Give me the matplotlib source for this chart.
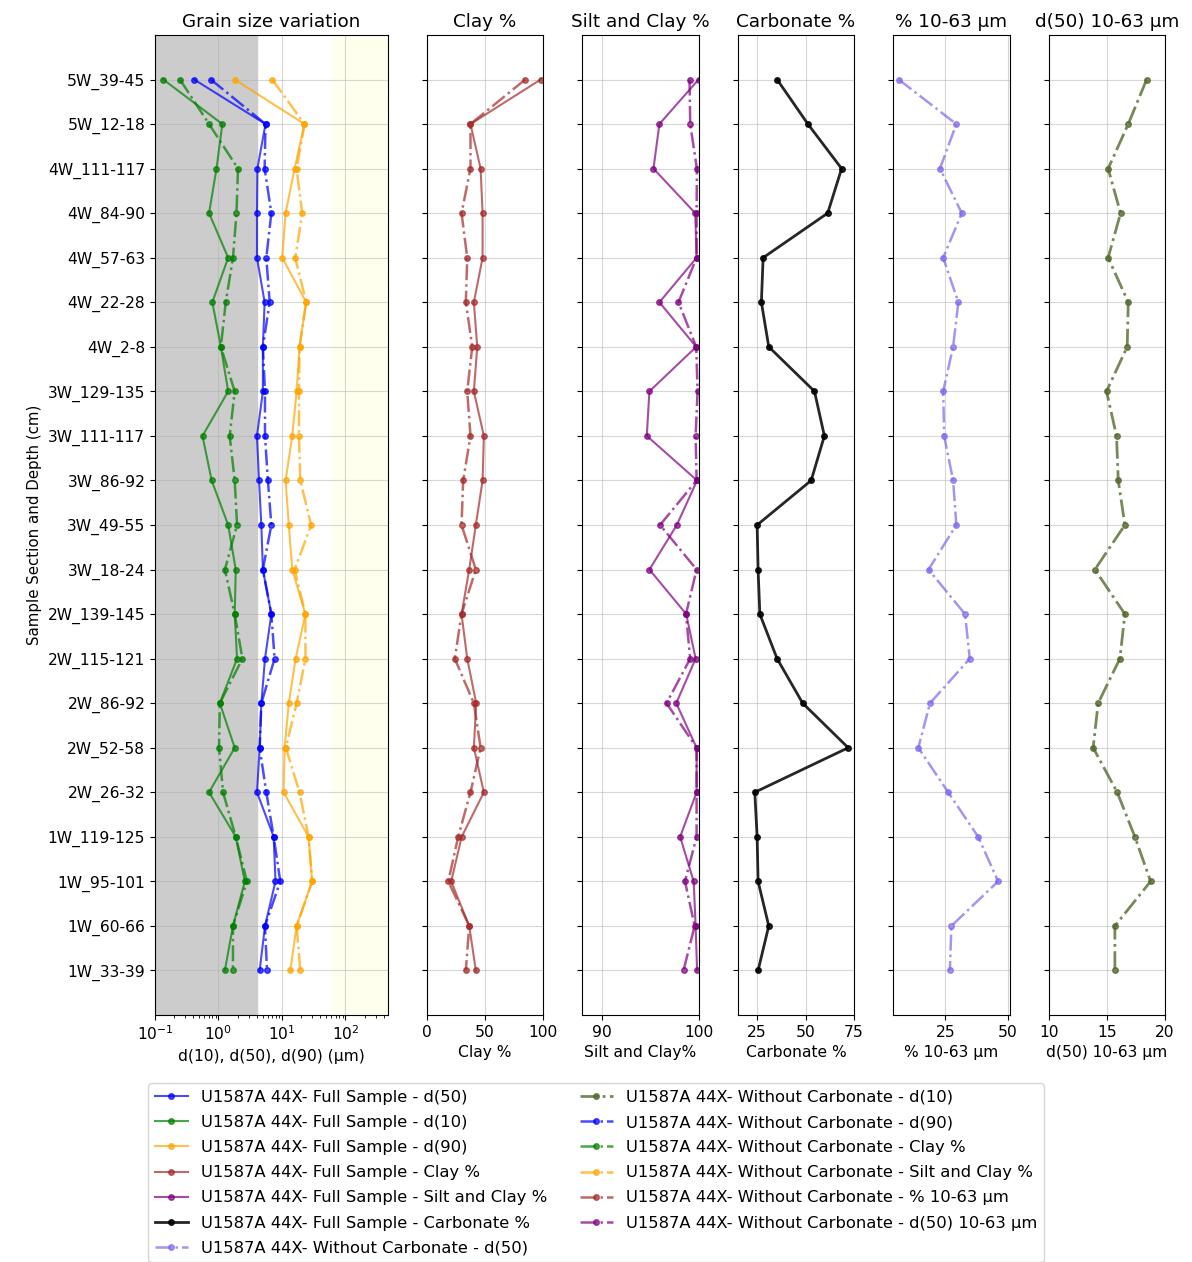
import numpy as np
import matplotlib
matplotlib.use('Agg')
import matplotlib.pyplot as plt

plt.rcParams['font.size'] = 11.2

samples = ['5W_39-45', '5W_12-18', '4W_111-117', '4W_84-90', '4W_57-63', '4W_22-28',
           '4W_2-8', '3W_129-135', '3W_111-117', '3W_86-92', '3W_49-55', '3W_18-24',
           '2W_139-145', '2W_115-121', '2W_86-92', '2W_52-58', '2W_26-32',
           '1W_119-125', '1W_95-101', '1W_60-66', '1W_33-39']

# full sample
d10_full = [0.135, 1.15, 0.93, 0.71, 1.42, 0.80, 1.09, 1.42, 0.56, 0.78, 1.42,
            1.87, 1.80, 1.96, 1.05, 1.80, 0.71, 1.87, 2.6, 1.69, 1.26]
d50_full = [0.414, 5.5, 4.1, 4.04, 4.04, 5.33, 5.0, 5.0, 4.04, 4.35, 4.73,
            5.0, 6.8, 5.4, 4.73, 4.45, 4.04, 7.4, 7.9, 5.4, 4.45]
d90_full = [1.80, 22.6, 15.8, 11.4, 10.1, 24.0, 18.9, 17.0, 14.5, 11.4, 12.8,
            14.5, 23.4, 16.4, 12.8, 11.0, 10.6, 26.2, 29.9, 17.0, 13.5]
clay_full = [98, 37.6, 46.3, 48, 48, 40.5, 43.4, 40.5, 49.1, 48, 42.2,
             36.5, 29.9, 34.8, 42.5, 40.5, 49.1, 30, 21, 36.5, 42.2]
silt_full = [100, 95.96, 95.35, 99.66, 99.8, 95.96, 99.76, 94.93, 94.66, 99.85, 97.76,
             94.93, 98.73, 99.7, 97.7, 99.8, 99.8, 98.1, 99.5, 99.7, 99.85]
carb_full = [35.3, 51.2, 68.6, 61.4, 28.1, 27.2, 31.0, 54.6, 59.7, 52.9, 25.0,
             25.5, 26.4, 35.3, 48.5, 72, 23.8, 25.0, 25.5, 31.0, 25.5]

# without carbonate
d10_wc = [0.247, 0.71, 2.03, 1.92, 1.69, 1.30, 1.09, 1.80, 1.50, 1.80, 1.96,
          1.26, 1.80, 2.38, 1.05, 1.02, 1.18, 1.87, 2.8, 1.69, 1.69]
d50_wc = [0.757, 5.5, 5.33, 6.8, 5.66, 6.4, 5.0, 5.4, 5.4, 6.0, 6.8,
          5.0, 6.8, 7.65, 4.73, 4.45, 5.66, 7.4, 9.4, 5.4, 5.8]
d90_wc = [7.03, 22.6, 17.0, 20.8, 16.2, 24.0, 18.9, 18.5, 18.5, 19.4, 28.8,
          15.8, 23.4, 23.4, 17.0, 11.5, 18.9, 26.2, 29.9, 17.0, 19.4]
clay_wc = [84.7, 37.6, 37.6, 29.9, 34.8, 33.6, 39.1, 34.8, 37.6, 31.3, 29.9,
           42.2, 29.9, 24.1, 40.5, 46.3, 37.6, 27, 18.5, 36.5, 33.6]
silt_wc = [99.07, 99.14, 99.83, 99.8, 99.8, 97.93, 99.76, 99.9, 99.7, 99.8, 96.03,
           99.8, 98.7, 99.14, 96.7, 99.8, 99.8, 99.8, 98.6, 99.6, 98.45]
pct_1063_wc = [6.2, 29.4, 22.8, 31.6, 24.1, 30.2, 28.1, 24.1, 24.5, 28.1, 29.4,
               18.2, 32.9, 34.8, 18.8, 14.1, 26.1, 38.2, 46.2, 27.4, 26.8]
d50_1063_wc = [18.42, 16.84, 15.11, 16.18, 15.11, 16.84, 16.75, 14.97, 15.83, 15.98, 16.55,
               13.97, 16.55, 16.12, 14.25, 13.82, 15.89, 17.41, 18.76, 15.69, 15.69]

legend_labels = ['U1587A 44X- Full Sample - d(50)',
                 'U1587A 44X- Full Sample - d(10)',
                 'U1587A 44X- Full Sample - d(90)',
                 'U1587A 44X- Full Sample - Clay %',
                 'U1587A 44X- Full Sample - Silt and Clay %',
                 'U1587A 44X- Full Sample - Carbonate %',
                 'U1587A 44X- Without Carbonate - d(50)',
                 'U1587A 44X- Without Carbonate - d(10)',
                 'U1587A 44X- Without Carbonate - d(90)',
                 'U1587A 44X- Without Carbonate - Clay %',
                 'U1587A 44X- Without Carbonate - Silt and Clay %',
                 'U1587A 44X- Without Carbonate - % 10-63 µm',
                 'U1587A 44X- Without Carbonate - d(50) 10-63 µm']

fig, axes = plt.subplots(1, 6, sharey=True, figsize=(11.92, 12.62), dpi=100,
                         gridspec_kw={'width_ratios': [2, 1, 1, 1, 1, 1]})
fig.subplots_adjust(left=155/1192, right=1165/1192, bottom=0.1957, top=0.9723, wspace=0.289)

full = dict(linestyle='-', marker='o', markersize=4, linewidth=1.5, alpha=0.7)
wc = dict(linestyle='-.', marker='o', markersize=4, linewidth=1.8, alpha=0.7)
title_size = 13.2

# grain size panel
ax = axes[0]
ax.axvspan(0.1, 4, color='#cccccc', zorder=0)
ax.axvspan(63, 1000, color='lightyellow', alpha=0.55, zorder=0)
h_d50, = ax.plot(d50_full, samples, color='blue', **full)
h_d10, = ax.plot(d10_full, samples, color='green', **full)
h_d90, = ax.plot(d90_full, samples, color='orange', **full)
h_d50w, = ax.plot(d50_wc, samples, color='blue', **wc)
h_d10w, = ax.plot(d10_wc, samples, color='green', **wc)
h_d90w, = ax.plot(d90_wc, samples, color='orange', **wc)
ax.set_xscale('log')
ax.set_xlim(0.1, 460)
ax.set_title('Grain size variation', fontsize=title_size)
ax.set_xlabel('d(10), d(50), d(90) (µm)')
ax.set_ylabel('Sample Section and Depth (cm)', fontsize=10.8)

ax = axes[1]
h_clay, = ax.plot(clay_full, samples, color='brown', **full)
h_clayw, = ax.plot(clay_wc, samples, color='brown', **wc)
ax.set_xlim(0, 100)
ax.set_xticks([0, 50, 100])
ax.set_title('Clay %', fontsize=title_size)
ax.set_xlabel('Clay %')

ax = axes[2]
h_silt, = ax.plot(silt_full, samples, color='purple', **full)
h_siltw, = ax.plot(silt_wc, samples, color='purple', **wc)
ax.set_xlim(88, 100)
ax.set_xticks([90, 100])
ax.set_title('Silt and Clay %', fontsize=title_size)
ax.set_xlabel('Silt and Clay%')

ax = axes[3]
h_carb, = ax.plot(carb_full, samples, color='black', linestyle='-', marker='o',
                  markersize=4, linewidth=2, alpha=0.85)
ax.set_xlim(15, 75)
ax.set_xticks([25, 50, 75])
ax.set_title('Carbonate %', fontsize=title_size)
ax.set_xlabel('Carbonate %')

ax = axes[4]
h_pct, = ax.plot(pct_1063_wc, samples, color='mediumslateblue', **wc)
ax.set_xlim(4, 50.8)
ax.set_xticks([25, 50])
ax.set_title('% 10-63 µm', fontsize=title_size)
ax.set_xlabel('% 10-63 µm')

ax = axes[5]
h_d5063, = ax.plot(d50_1063_wc, samples, color='darkolivegreen',
                   linestyle='-.', marker='o', markersize=4, linewidth=2, alpha=0.8)
ax.set_xlim(10, 20)
ax.set_xticks([10, 15, 20])
ax.set_title('d(50) 10-63 µm', fontsize=title_size)
ax.set_xlabel('d(50) 10-63 µm')

for a in axes:
    a.grid(True, alpha=0.5)

axes[0].invert_yaxis()

handles = [h_d50, h_d10, h_d90, h_clay, h_silt, h_carb,
           h_pct, h_d5063, h_d50w, h_d10w, h_d90w, h_clayw, h_siltw]
fig.legend(handles, legend_labels, loc='upper center', bbox_to_anchor=(0.5, 0.1481),
           ncol=2, fontsize=11.8, labelspacing=0.62)

fig.savefig('out.png', dpi=100)
